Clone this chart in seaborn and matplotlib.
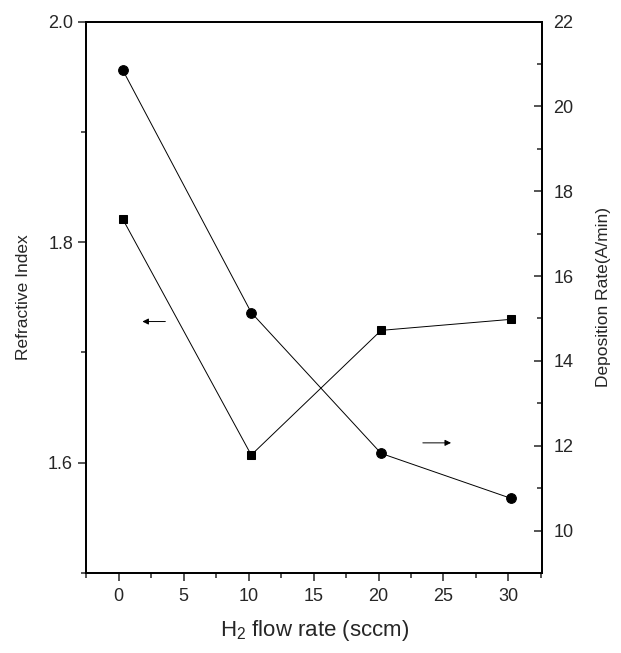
import numpy as np
import pandas as pd
import matplotlib
matplotlib.use("Agg")
import matplotlib.pyplot as plt
from matplotlib.ticker import MultipleLocator
import seaborn as sns

# values
flow = [0.3, 10.2, 20.2, 30.2]
refractive_index = [1.821, 1.607, 1.720, 1.730]
deposition_rate = [20.86, 15.14, 11.82, 10.76]

sns.set_style("ticks")
plt.rcParams['font.family'] = ['Liberation Sans', 'DejaVu Sans']
plt.rcParams['mathtext.default'] = 'regular'

df = pd.DataFrame({'flow': flow, 'ri': refractive_index, 'dep': deposition_rate})

fig = plt.figure(figsize=(6.21, 6.53), dpi=100)
ax = fig.add_axes([0.139, 0.1225, 0.734, 0.8445])
ax2 = ax.twinx()

sns.lineplot(data=df, x='flow', y='ri', ax=ax, color='black', marker='s',
             markersize=6.3, linewidth=0.7, markeredgecolor='black')
sns.lineplot(data=df, x='flow', y='dep', ax=ax2, color='black', marker='o',
             markersize=7, linewidth=0.7, markeredgecolor='black')

ax.set_xlim(-2.5, 32.6)
ax.set_ylim(1.5, 2.0)
ax2.set_ylim(9, 22)

ax.xaxis.set_major_locator(MultipleLocator(5))
ax.xaxis.set_minor_locator(MultipleLocator(2.5))
ax.yaxis.set_minor_locator(MultipleLocator(0.1))
ax.set_yticks([1.6, 1.8, 2.0])
ax.set_yticklabels(['1.6', '1.8', '2.0'])
ax2.yaxis.set_major_locator(MultipleLocator(2))
ax2.yaxis.set_minor_locator(MultipleLocator(1))

ax.tick_params(axis='both', which='major', direction='out', length=6, width=1.1, labelsize=13)
ax.tick_params(axis='both', which='minor', direction='out', length=3.5, width=1.1)
ax.tick_params(axis='x', which='major', pad=5)
ax.tick_params(axis='y', right=False)
ax2.tick_params(axis='y', which='major', direction='in', length=6, width=1.1, labelsize=13, pad=8)
ax2.tick_params(axis='y', which='minor', direction='in', length=3.5, width=1.1)

for a in (ax, ax2):
    for s in a.spines.values():
        s.set_visible(True)
        s.set_linewidth(1.3)
        s.set_color('black')

ax.set_xlabel('H$_2$ flow rate (sccm)', fontsize=16, labelpad=9)
ax.set_ylabel('Refractive Index', fontsize=12.5, labelpad=12)
ax2.set_ylabel('Deposition Rate(A/min)', fontsize=12.5, labelpad=16)

# arrows showing which axis each curve belongs to
ax.annotate('', xy=(1.6, 1.728), xytext=(3.8, 1.728),
            arrowprops=dict(arrowstyle='-|>', color='black', lw=0.7, mutation_scale=9))
ax.annotate('', xy=(25.8, 1.618), xytext=(23.2, 1.618),
            arrowprops=dict(arrowstyle='-|>', color='black', lw=0.7, mutation_scale=9))

fig.savefig('out.png', dpi=100)
